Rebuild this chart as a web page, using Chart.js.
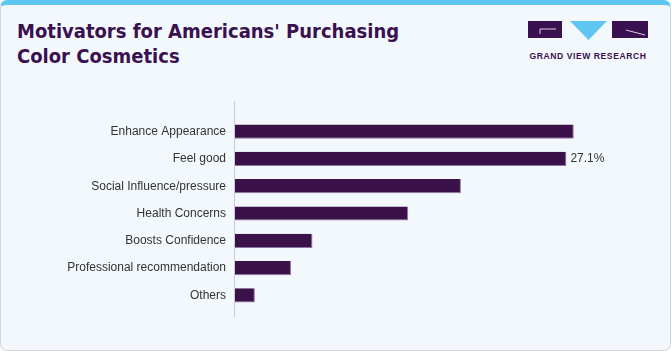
<!DOCTYPE html>
<html>
<head>
<meta charset="utf-8">
<script src="https://cdn.jsdelivr.net/npm/chart.js@4"></script>
<style>
  html, body { margin: 0; padding: 0; background: #ffffff; }
  .card {
    position: absolute; left: 0; top: 0;
    width: 669px; height: 345px;
    background: #f3f8fc;
    border: 1px solid #d3d7db;
    border-top: 5px solid #5ec6f1;
    border-radius: 7px;
    overflow: hidden;
  }
  .title {
    position: absolute; left: 16px; top: 14px;
    font-family: "Liberation Sans Narrow", "DejaVu Sans Condensed", sans-serif;
    font-weight: bold; font-size: 20px; line-height: 25px;
    color: #3a1150;
  }
  .logo { position: absolute; left: 526px; top: 15px; }
  canvas { position: absolute; left: 0; top: 0; }
</style>
</head>
<body>
<div class="card">
  <div class="title">Motivators for Americans' Purchasing<br>Color Cosmetics</div>
  <svg class="logo" width="124" height="42" viewBox="0 0 124 42">
    <rect x="1" y="1" width="34" height="17" fill="#3a1150"/>
    <polyline points="29,9 13,9 13,14" fill="none" stroke="#ffffff" stroke-width="0.8"/>
    <polygon points="43,1 80,1 61.5,20" fill="#5ec6f1"/>
    <rect x="85" y="1" width="36" height="17" fill="#3a1150"/>
    <line x1="99" y1="10" x2="118" y2="15" stroke="#ffffff" stroke-width="0.8"/>
    <text x="61" y="39" text-anchor="middle" font-family="Liberation Sans, sans-serif" font-weight="bold" font-size="8.6" letter-spacing="0.55" fill="#3a1150">GRAND VIEW RESEARCH</text>
  </svg>
  <canvas id="chart" width="669" height="345"></canvas>
</div>
<script>
const categories = [
  'Enhance Appearance',
  'Feel good',
  'Social Influence/pressure',
  'Health Concerns',
  'Boosts Confidence',
  'Professional recommendation',
  'Others'
];
const shares = [27.7, 27.1, 18.5, 14.2, 6.4, 4.65, 1.7];
const labelledIndex = 1; // only "Feel good" carries a value label

const barColor = '#3a1149';
const textColor = '#333333';

// vertical axis line runs a bit past the bars, like the original
const axisLine = {
  id: 'axisLine',
  afterDatasetsDraw(chart) {
    const { ctx, chartArea, scales } = chart;
    const x = Math.round(scales.x.getPixelForValue(0)) + 0.5;
    ctx.save();
    ctx.strokeStyle = '#c8cbcf';
    ctx.lineWidth = 1;
    ctx.beginPath();
    ctx.moveTo(x, chartArea.top - 17);
    ctx.lineTo(x, chartArea.bottom + 8);
    ctx.stroke();
    ctx.restore();
  }
};

const valueLabel = {
  id: 'valueLabel',
  afterDatasetsDraw(chart) {
    const { ctx } = chart;
    const bar = chart.getDatasetMeta(0).data[labelledIndex];
    ctx.save();
    ctx.font = '12px "Liberation Sans", sans-serif';
    ctx.fillStyle = textColor;
    ctx.textAlign = 'left';
    ctx.textBaseline = 'middle';
    ctx.fillText(shares[labelledIndex].toFixed(1) + '%', bar.x + 4, bar.y);
    ctx.restore();
  }
};

new Chart(document.getElementById('chart'), {
  type: 'bar',
  data: {
    labels: categories,
    datasets: [{
      data: shares,
      backgroundColor: barColor,
      borderColor: '#8d7aa3',
      borderWidth: { top: 0, left: 0, right: 1, bottom: 1 },
      borderSkipped: false,
      barPercentage: 0.52,
      categoryPercentage: 1.0
    }]
  },
  options: {
    indexAxis: 'y',
    responsive: false,
    animation: false,
    layout: { padding: { top: 113, bottom: 41, left: 0, right: 68 } },
    scales: {
      x: {
        display: false,
        min: 0,
        max: 30
      },
      y: {
        afterFit(scale) { scale.width = 233; },
        grid: { display: false, drawTicks: false },
        border: { display: false },
        ticks: {
          color: textColor,
          padding: 8,
          font: { family: '"Liberation Sans", sans-serif', size: 12 }
        }
      }
    },
    plugins: {
      legend: { display: false },
      tooltip: { enabled: false }
    }
  },
  plugins: [axisLine, valueLabel]
});
</script>
</body>
</html>
